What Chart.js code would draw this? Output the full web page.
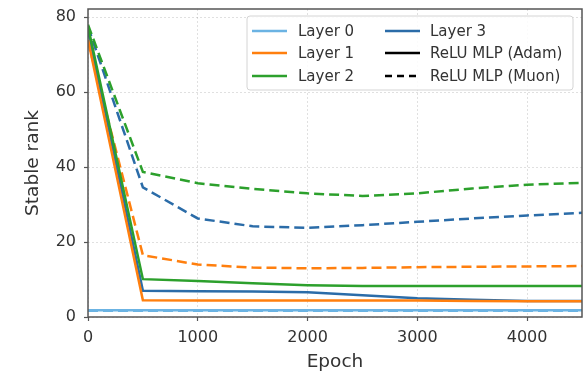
<!DOCTYPE html>
<html>
<head>
<meta charset="utf-8">
<script src="https://cdn.jsdelivr.net/npm/chart.js@4"></script>
<style>
  html, body { margin: 0; padding: 0; background: #fff; }
  #wrap { width: 587px; height: 375px; position: relative; }
</style>
</head>
<body>
<div id="wrap"><canvas id="chart"></canvas></div>
<script>
// ---------- Data ----------
const epochs = [0, 500, 1000, 1500, 2000, 2500, 3000, 3500, 4000, 4500];

const layerNames = ['Layer 0', 'Layer 1', 'Layer 2', 'Layer 3'];
const optimizerNames = ['ReLU MLP (Adam)', 'ReLU MLP (Muon)'];

const adamLayer0 = [1.8, 1.8, 1.8, 1.8, 1.8, 1.8, 1.8, 1.8, 1.8, 1.8];
const adamLayer1 = [74, 4.5, 4.4, 4.4, 4.4, 4.4, 4.4, 4.3, 4.2, 4.2];
const adamLayer2 = [77.5, 10.1, 9.6, 9.0, 8.5, 8.3, 8.3, 8.3, 8.3, 8.3];
const adamLayer3 = [76.5, 7.0, 6.9, 6.8, 6.6, 5.8, 5.0, 4.6, 4.3, 4.3];

const muonLayer0 = [1.7, 1.7, 1.7, 1.7, 1.7, 1.7, 1.7, 1.7, 1.7, 1.7];
const muonLayer1 = [73.5, 16.5, 14.0, 13.2, 13.0, 13.1, 13.3, 13.4, 13.5, 13.6];
const muonLayer2 = [78, 38.7, 35.7, 34.2, 33.0, 32.3, 33.0, 34.3, 35.3, 35.8];
const muonLayer3 = [77.5, 34.6, 26.3, 24.2, 23.8, 24.5, 25.4, 26.3, 27.1, 27.8];

const yTicks = [0, 20, 40, 60, 80];
const xTicks = [0, 1000, 2000, 3000, 4000];

// ---------- Style ----------
const LAYER_COLORS = ['#6bb3e3', '#ff7f0e', '#2ca02c', '#2b6ca8'];
const DASH = [10, 5];
const FONT = 'DejaVu Sans';
const TEXT = '#333';

const adamSeries = [adamLayer0, adamLayer1, adamLayer2, adamLayer3];
const muonSeries = [muonLayer0, muonLayer1, muonLayer2, muonLayer3];

const toPoints = (ys) => epochs.map((x, i) => ({ x, y: ys[i] }));

const datasets = [];
adamSeries.forEach((ys, i) => {
  datasets.push({
    label: `${layerNames[i]} Adam`,
    data: toPoints(ys),
    borderColor: LAYER_COLORS[i],
    borderWidth: 2.5,
    pointRadius: 0,
    tension: 0,
  });
});
muonSeries.forEach((ys, i) => {
  datasets.push({
    label: `${layerNames[i]} Muon`,
    data: toPoints(ys),
    borderColor: LAYER_COLORS[i],
    borderWidth: 2.5,
    borderDash: DASH,
    pointRadius: 0,
    tension: 0,
  });
});

// Frame around plot + two-column legend box in the top-right corner
const framePlugin = {
  id: 'frame',
  afterDraw(chart) {
    const { ctx, chartArea: a } = chart;
    ctx.save();
    ctx.strokeStyle = '#555';
    ctx.lineWidth = 1.5;
    ctx.setLineDash([]);
    ctx.strokeRect(a.left, a.top, a.right - a.left, a.bottom - a.top);

    // legend box
    const bx = 247, by = 16, bw = 326, bh = 74;
    ctx.fillStyle = 'rgba(255,255,255,0.85)';
    ctx.strokeStyle = '#d4d4d4';
    ctx.lineWidth = 1;
    ctx.beginPath();
    ctx.roundRect(bx, by, bw, bh, 3);
    ctx.fill();
    ctx.stroke();

    const entries = [
      ...layerNames.map((name, i) => ({ name, color: LAYER_COLORS[i], dash: [] })),
      { name: optimizerNames[0], color: '#000', dash: [] },
      { name: optimizerNames[1], color: '#000', dash: [7, 5] },
    ];
    const cols = [
      { x1: 252, x2: 287, tx: 298 },
      { x1: 385, x2: 420, tx: 430 },
    ];
    const rowY = [31, 53, 76];
    ctx.font = `15px "${FONT}"`;
    ctx.textBaseline = 'middle';
    ctx.textAlign = 'left';
    entries.forEach((e, k) => {
      const c = cols[Math.floor(k / 3)];
      const y = rowY[k % 3];
      ctx.strokeStyle = e.color;
      ctx.lineWidth = 2.5;
      ctx.setLineDash(e.dash);
      ctx.beginPath();
      ctx.moveTo(c.x1, y);
      ctx.lineTo(c.x2, y);
      ctx.stroke();
      ctx.fillStyle = TEXT;
      ctx.fillText(e.name, c.tx, y + 1);
    });
    ctx.restore();
  },
};

const gridOpts = {
  color: 'rgba(0,0,0,0.12)',
  lineWidth: 1,
  tickLength: 4,
  tickColor: '#555',
  tickWidth: 1.2,
  tickBorderDash: [],
};

new Chart(document.getElementById('chart'), {
  type: 'line',
  data: { datasets },
  options: {
    responsive: true,
    maintainAspectRatio: false,
    animation: false,
    layout: { padding: { top: 9, right: 5, left: 0, bottom: 0 } },
    plugins: {
      legend: { display: false },
      tooltip: { enabled: false },
    },
    scales: {
      x: {
        type: 'linear',
        min: 0,
        max: 4500,
        afterFit: (s) => {
          s.height = 58;
          s.paddingLeft = 0;
          s.paddingRight = 0;
        },
        afterBuildTicks: (s) => { s.ticks = xTicks.map((v) => ({ value: v })); },
        ticks: {
          color: TEXT,
          font: { family: FONT, size: 16 },
          padding: 7,
          maxRotation: 0,
          callback: (v) => String(v),
        },
        grid: gridOpts,
        border: { display: false, dash: [2, 2] },
        title: {
          display: true,
          text: 'Epoch',
          color: TEXT,
          font: { family: FONT, size: 18.5 },
          padding: { top: 0, bottom: 2 },
        },
      },
      y: {
        min: 0,
        max: 82.2,
        afterFit: (s) => {
          s.width = 88;
          s.paddingTop = 0;
          s.paddingBottom = 0;
        },
        afterBuildTicks: (s) => { s.ticks = yTicks.map((v) => ({ value: v })); },
        ticks: {
          color: TEXT,
          font: { family: FONT, size: 16 },
          padding: 8,
          callback: (v) => String(v),
        },
        grid: gridOpts,
        border: { display: false, dash: [2, 2] },
        title: {
          display: true,
          text: 'Stable rank',
          color: TEXT,
          font: { family: FONT, size: 18.5 },
          padding: { top: 22, bottom: 0 },
        },
      },
    },
  },
  plugins: [framePlugin],
});
</script>
</body>
</html>
